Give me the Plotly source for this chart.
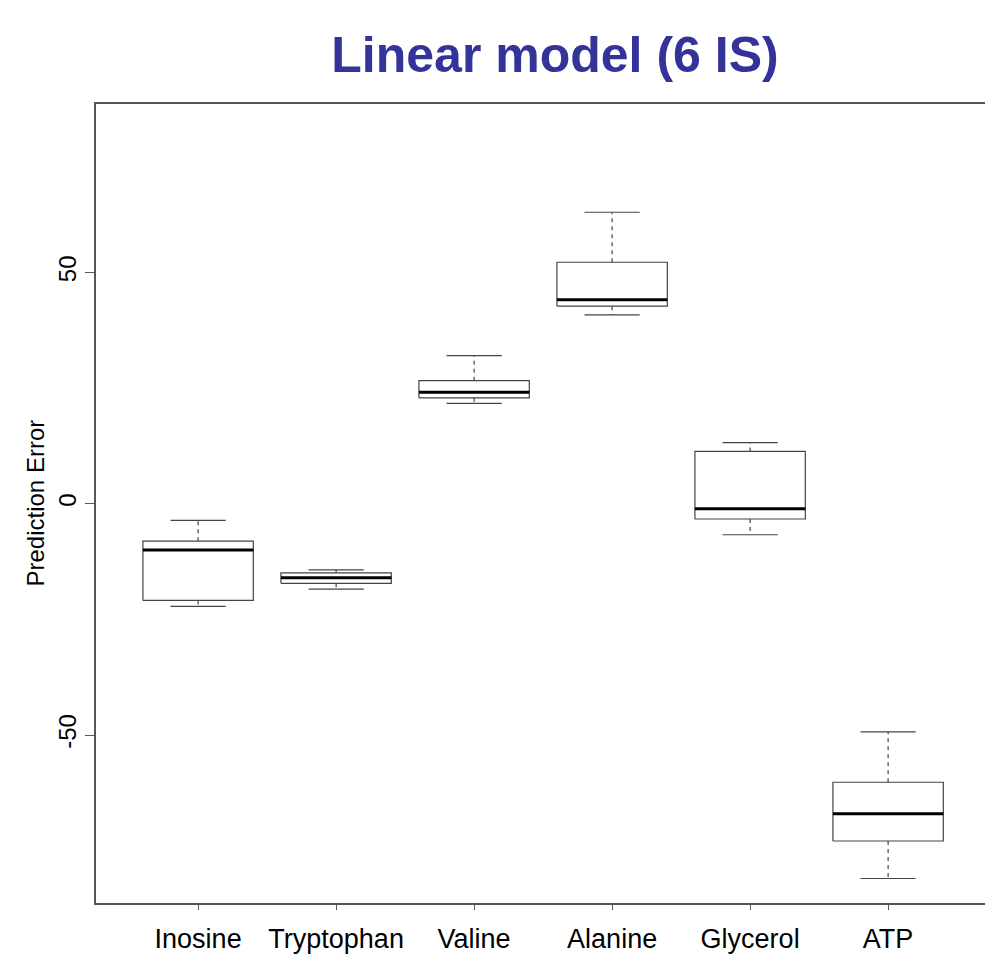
import plotly.graph_objects as go

categories = ["Inosine", "Tryptophan", "Valine", "Alanine", "Glycerol", "ATP"]
lower_whisker = [-22.2, -18.45, 21.7, 40.8, -6.7, -81.0]
q1 = [-20.9, -17.2, 22.9, 42.7, -3.3, -72.9]
median = [-10.0, -16.0, 24.1, 44.1, -1.1, -67.0]
q3 = [-8.1, -14.95, 26.6, 52.2, 11.3, -60.2]
upper_whisker = [-3.6, -14.3, 32.0, 63.0, 13.2, -49.3]
y_ticks = [-50, 0, 50]

FONT = "Liberation Sans, Arial, sans-serif"
BOX_HALF = 0.4
CAP_HALF = 0.2

fig = go.Figure()

bx, by, mx, my, wx, wy, cx, cy = [], [], [], [], [], [], [], []
for i, name in enumerate(categories):
    p = i + 1
    bx += [p - BOX_HALF, p + BOX_HALF, p + BOX_HALF, p - BOX_HALF, p - BOX_HALF, None]
    by += [q1[i], q1[i], q3[i], q3[i], q1[i], None]
    mx += [p - BOX_HALF, p + BOX_HALF, None]
    my += [median[i], median[i], None]
    wx += [p, p, None, p, p, None]
    wy += [q3[i], upper_whisker[i], None, q1[i], lower_whisker[i], None]
    cx += [p - CAP_HALF, p + CAP_HALF, None, p - CAP_HALF, p + CAP_HALF, None]
    cy += [upper_whisker[i], upper_whisker[i], None, lower_whisker[i], lower_whisker[i], None]

fig.add_trace(go.Scatter(x=wx, y=wy, mode="lines",
                         line=dict(color="#444444", width=1.2, dash="4px,4px"),
                         hoverinfo="skip", showlegend=False))
fig.add_trace(go.Scatter(x=cx, y=cy, mode="lines",
                         line=dict(color="#444444", width=1.2),
                         hoverinfo="skip", showlegend=False))
fig.add_trace(go.Scatter(x=bx, y=by, mode="lines",
                         line=dict(color="#444444", width=1.2),
                         hoverinfo="skip", showlegend=False))
fig.add_trace(go.Scatter(x=mx, y=my, mode="lines",
                         line=dict(color="#000000", width=3),
                         hoverinfo="skip", showlegend=False))

fig.update_layout(
    width=985, height=954,
    margin=dict(l=96, r=0, t=104, b=41),
    paper_bgcolor="white", plot_bgcolor="white",
    font=dict(family=FONT, color="black"),
    title=dict(text="<b>Linear model (6 IS)</b>",
               font=dict(family=FONT, size=50, color="#333399"),
               x=555 / 985, xanchor="center", xref="container",
               y=1 - 54 / 954, yanchor="middle"),
    xaxis=dict(range=[0.26, 0.26 + 889 / 138], tickmode="array",
               tickvals=list(range(1, len(categories) + 1)), ticktext=categories,
               ticks="outside", ticklen=5, tickcolor="#555555", tickwidth=1.2,
               ticklabelstandoff=6,
               showline=True, mirror=True, linecolor="#555555", linewidth=1.5,
               showgrid=False, zeroline=False,
               tickfont=dict(family=FONT, size=27, color="black")),
    yaxis=dict(range=[-86.3, 86.4], tickmode="array", tickvals=y_ticks,
               ticktext=[str(v) for v in y_ticks], tickangle=-90,
               ticks="outside", ticklen=9, tickcolor="#555555", tickwidth=1.2,
               showline=True, mirror=False, linecolor="#555555", linewidth=1.5,
               showgrid=False, zeroline=False,
               tickfont=dict(family=FONT, size=24, color="black")),
    annotations=[dict(text="Prediction Error", textangle=-90,
                      xref="paper", yref="paper", x=0, y=0.5,
                      xshift=-61, xanchor="center", yanchor="middle",
                      showarrow=False,
                      font=dict(family=FONT, size=24, color="black"))],
)

post = (
    "document.body.style.margin='0';"
    "document.body.style.fontSize='0';"
    "document.body.style.lineHeight='0';"
    "document.documentElement.style.overflow='hidden';"
    "document.body.style.overflow='hidden';"
    "document.body.style.height='954px';"
    "var d=document.body.firstElementChild;"
    "if(d){d.style.height='954px';d.style.overflow='hidden';}"
)

fig.write_html("out.html", config={"displayModeBar": False}, post_script=post)
